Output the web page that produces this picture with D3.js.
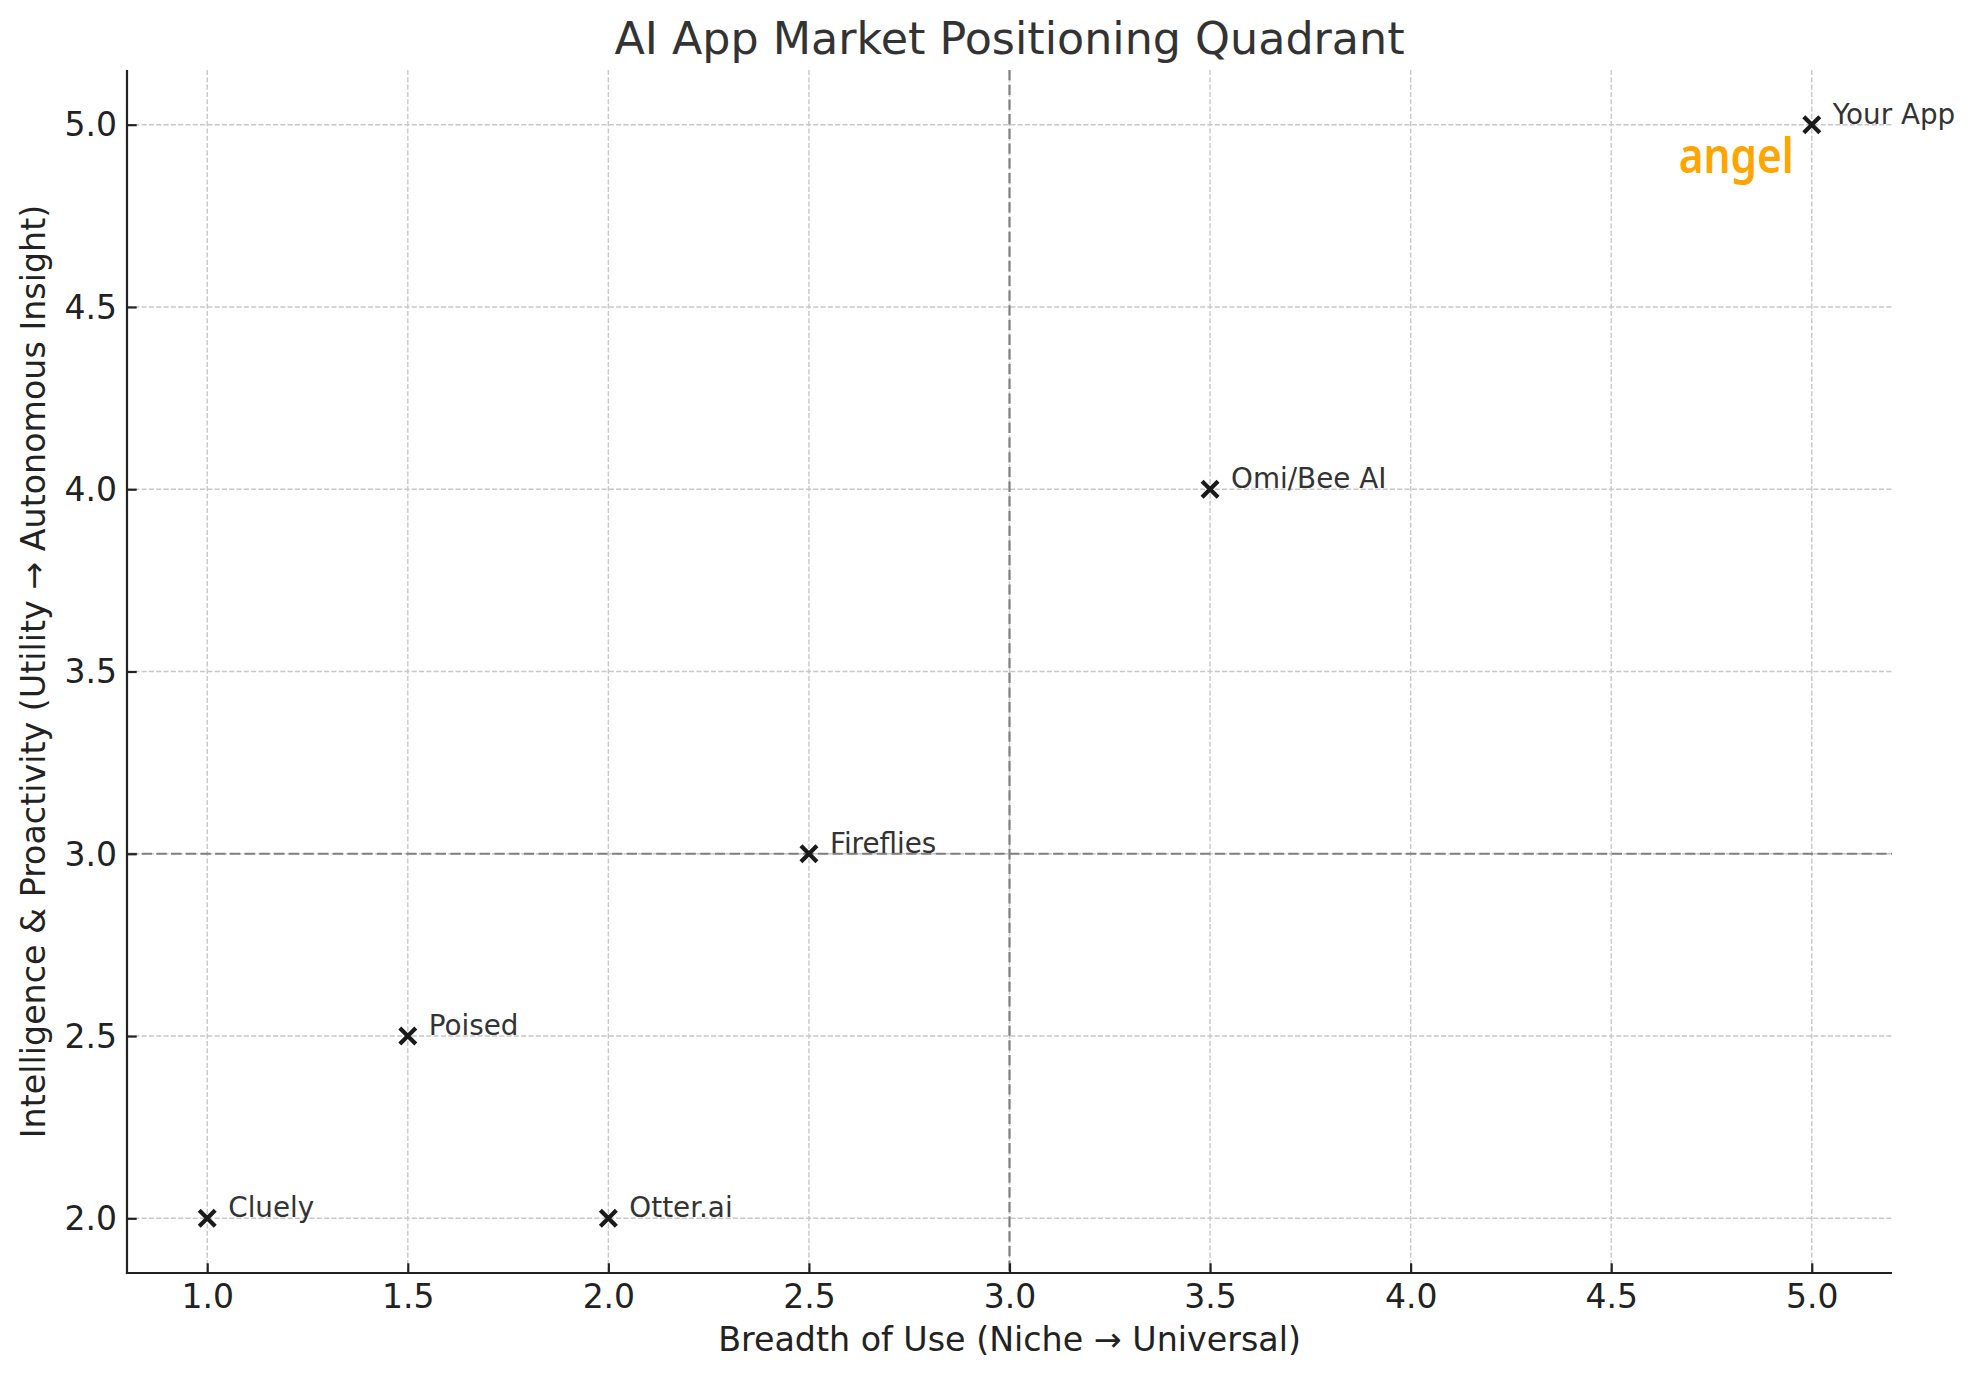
<!DOCTYPE html>
<html>
<head>
<meta charset="utf-8">
<script src="https://cdn.jsdelivr.net/npm/d3@7"></script>
<style>
  html, body { margin: 0; padding: 0; background: #fff; }
  svg { display: block; font-family: "DejaVu Sans", sans-serif; }
</style>
</head>
<body>
<svg id="chart" width="1972" height="1380"></svg>
<script>
const apps = ["Cluely", "Poised", "Otter.ai", "Fireflies", "Omi/Bee AI", "Your App"];
const breadth = [1.0, 1.5, 2.0, 2.5, 3.5, 5.0];
const intelligence = [2.0, 2.5, 2.0, 3.0, 4.0, 5.0];
const xTicks = [1.0, 1.5, 2.0, 2.5, 3.0, 3.5, 4.0, 4.5, 5.0];
const yTicks = [2.0, 2.5, 3.0, 3.5, 4.0, 4.5, 5.0];
const xDomain = [0.8, 5.2];
const yDomain = [1.85, 5.15];
const quadrantX = 3.0;
const quadrantY = 3.0;
const title = "AI App Market Positioning Quadrant";
const xLabel = "Breadth of Use (Niche → Universal)";
const yLabel = "Intelligence & Proactivity (Utility → Autonomous Insight)";
const logoText = "angel";

(function () {
const pL = 127, pR = 1892, pT = 70, pB = 1273;
const svg = d3.select("#chart");
const x = d3.scaleLinear().domain(xDomain).range([pL, pR]);
const y = d3.scaleLinear().domain(yDomain).range([pB, pT]);

// grid
const grid = svg.append("g");
grid.selectAll("line.gx").data(xTicks).join("line")
  .attr("x1", d => x(d)).attr("x2", d => x(d)).attr("y1", pT).attr("y2", pB)
  .attr("stroke", "#c8c8c8").attr("stroke-width", 1.4).attr("stroke-dasharray", "5.1,2.2");
grid.selectAll("line.gy").data(yTicks).join("line")
  .attr("x1", pL).attr("x2", pR).attr("y1", d => y(d)).attr("y2", d => y(d))
  .attr("stroke", "#c8c8c8").attr("stroke-width", 1.4).attr("stroke-dasharray", "5.1,2.2");

// quadrant lines
svg.append("line").attr("x1", x(quadrantX)).attr("x2", x(quadrantX)).attr("y1", pT).attr("y2", pB)
  .attr("stroke", "#808080").attr("stroke-width", 2.2).attr("stroke-dasharray", "10.3,4.4");
svg.append("line").attr("x1", pL).attr("x2", pR).attr("y1", y(quadrantY)).attr("y2", y(quadrantY))
  .attr("stroke", "#808080").attr("stroke-width", 2.2).attr("stroke-dasharray", "10.3,4.4");

// axes (ticks inward)
const xAxis = d3.axisBottom(x).tickValues(xTicks).tickFormat(d3.format(".1f")).tickSizeInner(-9.7).tickSizeOuter(0).tickPadding(19.4);
const yAxis = d3.axisLeft(y).tickValues(yTicks).tickFormat(d3.format(".1f")).tickSizeInner(-9.7).tickSizeOuter(0).tickPadding(19.4);
const gx = svg.append("g").attr("transform", `translate(0,${pB})`).call(xAxis);
const gy = svg.append("g").attr("transform", `translate(${pL},0)`).call(yAxis);
[gx, gy].forEach(g => {
  g.select(".domain").remove();
  g.selectAll(".tick line").attr("stroke", "#222").attr("stroke-width", 2.2);
  g.selectAll(".tick text").attr("fill", "#222").attr("font-size", 33).attr("font-family", "DejaVu Sans");
});
gx.selectAll(".tick text").attr("dy", "0.71em").attr("y", 12);
gy.selectAll(".tick text").attr("dy", "0.34em").attr("x", -10);

// spines: left and bottom only
svg.append("line").attr("x1", pL).attr("x2", pL).attr("y1", pT).attr("y2", pB + 1.1)
  .attr("stroke", "#222").attr("stroke-width", 2.2);
svg.append("line").attr("x1", pL - 1.1).attr("x2", pR).attr("y1", pB).attr("y2", pB)
  .attr("stroke", "#222").attr("stroke-width", 2.2);

// markers
const pts = apps.map((n, i) => ({ name: n, bx: breadth[i], iy: intelligence[i] }));
const m = 8;
const mk = svg.append("g");
pts.forEach(p => {
  const cx = x(p.bx), cy = y(p.iy);
  mk.append("path")
    .attr("d", `M${cx - m},${cy - m}L${cx + m},${cy + m}M${cx - m},${cy + m}L${cx + m},${cy - m}`)
    .attr("stroke", "#1a1a1a").attr("stroke-width", 4.2).attr("fill", "none");
});
svg.append("g").selectAll("text").data(pts).join("text")
  .attr("x", d => x(d.bx) + 21).attr("y", d => y(d.iy) - 1)
  .attr("font-size", 27.8).attr("fill", "#333")
  .text(d => d.name);

// logo
svg.append("text")
  .attr("transform", `translate(${x(5.0) - 18},${y(5.0) + 48}) scale(1,0.92)`)
  .attr("text-anchor", "end")
  .attr("font-family", "Noto Sans").attr("font-weight", 600)
  .attr("font-size", 52).attr("fill", "#FFA500")
  .attr("textLength", 115).attr("lengthAdjust", "spacingAndGlyphs")
  .text(logoText);

// title & labels
svg.append("text").attr("x", (pL + pR) / 2).attr("y", 54).attr("text-anchor", "middle")
  .attr("font-size", 44.4).attr("fill", "#333").text(title);
svg.append("text").attr("x", (pL + pR) / 2).attr("y", 1351).attr("text-anchor", "middle")
  .attr("font-size", 33.3).attr("fill", "#222").text(xLabel);
svg.append("text").attr("transform", `translate(45,${(pT + pB) / 2}) rotate(-90)`).attr("text-anchor", "middle")
  .attr("font-size", 33.3).attr("fill", "#222").text(yLabel);
})();
</script>
</body>
</html>
